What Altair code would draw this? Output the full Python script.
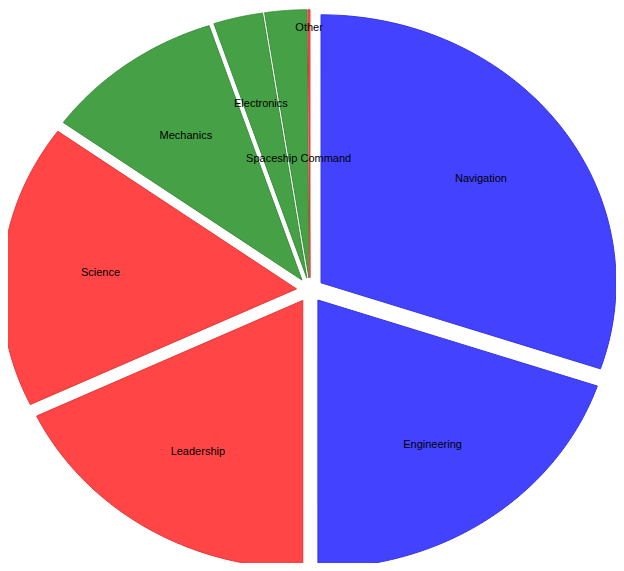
import altair as alt
import pandas as pd

categories = ["Navigation", "Engineering", "Leadership", "Science",
              "Mechanics", "Electronics", "Spaceship Command", "Other"]
values = [30.2, 19.8, 17.9, 17.1, 9.9, 2.7, 2.3, 0.1]
groups = ["Blue", "Blue", "Red", "Red", "Green", "Green", "Green", "Red"]

df = pd.DataFrame({
    "category": categories,
    "value": values,
    "group": groups,
    "idx": list(range(len(categories))),
})

group_domain = ["Blue", "Red", "Green"]
fill_range = ["#4343FF", "#FF4545", "#46A046"]
stroke_range = ["#3434E6", "#E63636", "#3B8E3B"]

EXPLODE = 0.046

base = (
    alt.Chart(df)
    .transform_window(cum="sum(value)", sort=[alt.SortField("idx")], frame=[None, 0])
    .transform_joinaggregate(total="sum(value)")
    .transform_calculate(
        a0="2*PI*(datum.cum - datum.value)/datum.total",
        a1="2*PI*datum.cum/datum.total",
    )
    .transform_calculate(am="(datum.a0 + datum.a1)/2")
    .transform_calculate(
        ox=f"{EXPLODE}*sin(datum.am)",
        oy=f"{EXPLODE}*cos(datum.am)",
    )
)

xscale = alt.Scale(domain=[-1, 1], range=[7, 597], nice=False, zero=False)
yscale = alt.Scale(domain=[-1, 1], range=[550, 14], nice=False, zero=False)

N = 80
slices = (
    base.transform_calculate(steps=f"sequence(0, {N + 2})")
    .transform_flatten(["steps"])
    .transform_calculate(
        t=f"datum.a0 + (datum.a1 - datum.a0) * (datum.steps - 1) / {N - 1}"
    )
    .transform_calculate(
        px=f"(datum.steps == 0 || datum.steps == {N + 1}) ? datum.ox : datum.ox + sin(datum.t)",
        py=f"(datum.steps == 0 || datum.steps == {N + 1}) ? datum.oy : datum.oy + cos(datum.t)",
    )
    .mark_line(strokeWidth=1, strokeJoin="miter")
    .encode(
        x=alt.X("px:Q", scale=xscale, axis=None),
        y=alt.Y("py:Q", scale=yscale, axis=None),
        fill=alt.Fill("group:N", scale=alt.Scale(domain=group_domain, range=fill_range), legend=None),
        stroke=alt.Stroke("group:N", scale=alt.Scale(domain=group_domain, range=stroke_range), legend=None),
        detail="category:N",
        order=alt.Order("steps:Q"),
    )
)

labels = (
    base.transform_calculate(
        lr="datum.category == 'Spaceship Command' ? 0.445 : (datum.category == 'Other' ? 0.93 : 0.667)"
    )
    .transform_calculate(
        lx="datum.ox + datum.lr*sin(datum.am)",
        ly="datum.oy + datum.lr*cos(datum.am)",
    )
    .mark_text(font="Liberation Sans", fontSize=11, color="#000000", align="center", baseline="middle")
    .encode(
        x=alt.X("lx:Q", scale=xscale, axis=None),
        y=alt.Y("ly:Q", scale=yscale, axis=None),
        text="category:N",
    )
)

chart = (
    alt.layer(slices, labels)
    .properties(width=608, height=555, padding=0, autosize=alt.AutoSizeParams(type="none"))
    .configure_view(stroke="transparent")
)

chart.save("out.html", embed_options={"renderer": "svg", "actions": False})
